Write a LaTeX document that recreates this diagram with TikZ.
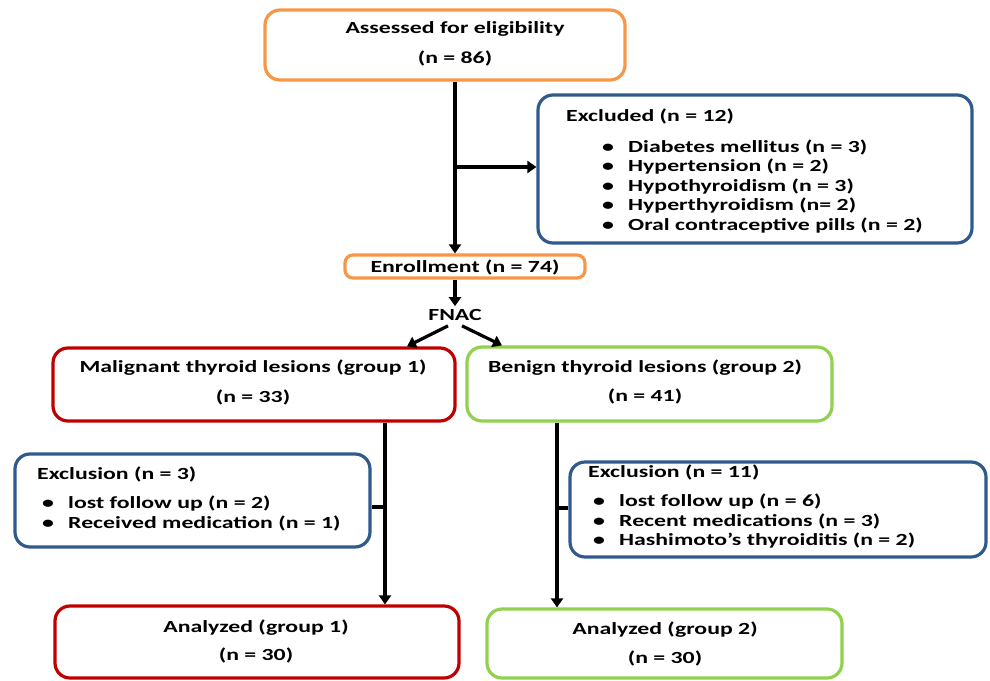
\documentclass[tikz,border=0pt]{standalone}
\usepackage{fontspec}
\setmainfont{Carlito}[FakeStretch=1.4]
\usetikzlibrary{arrows.meta}
\definecolor{boxorange}{HTML}{F79646}
\definecolor{boxblue}{HTML}{2F5A8E}
\definecolor{boxred}{HTML}{C00000}
\definecolor{boxgreen}{HTML}{92D050}
\newcommand{\itm}[1]{\hspace*{36pt}\makebox[26pt][l]{\textbullet}#1}
\newcommand{\itmb}[1]{\hspace*{5pt}\makebox[26pt][l]{\textbullet}#1}

\tikzset{
  flowbox/.style={draw, line width=3.2pt, rounded corners=15pt, inner sep=0pt},
  boxtext/.style={font=\fontsize{17}{20}\selectfont\bfseries, align=center, inner sep=0pt},
  listtext/.style={font=\fontsize{17}{19.5}\selectfont\bfseries, align=left, inner sep=0pt, anchor=north west},
  flow/.style={line width=3.2pt, -{Triangle[length=9pt,width=12pt]}},
  link/.style={line width=3.2pt}
}

\begin{document}
\begin{tikzpicture}[x=1pt,y=-1pt]
  \useasboundingbox (0,0) rectangle (990,680);

  % boxes
  \node[flowbox, draw=boxorange, minimum width=360pt, minimum height=70pt] (assess) at (445,45) {};
  \node[flowbox, draw=boxblue, minimum width=434pt, minimum height=148pt] (excl) at (755,169) {};
  \node[flowbox, draw=boxorange, rounded corners=8pt, minimum width=240pt, minimum height=23pt] (enroll) at (465,266.5) {};
  \node[flowbox, draw=boxred, minimum width=402pt, minimum height=73pt] (malig) at (254,384.5) {};
  \node[flowbox, draw=boxgreen, minimum width=365pt, minimum height=74pt] (benign) at (649.5,384) {};
  \node[flowbox, draw=boxblue, minimum width=355pt, minimum height=93pt] (exc1) at (192.5,500.5) {};
  \node[flowbox, draw=boxblue, minimum width=416pt, minimum height=95pt] (exc2) at (778,509.5) {};
  \node[flowbox, draw=boxred, minimum width=404pt, minimum height=72pt] (an1) at (257,642) {};
  \node[flowbox, draw=boxgreen, minimum width=355pt, minimum height=69pt] (an2) at (664.5,643.5) {};

  % texts
  \node[boxtext] (assesst) at (455,44) {Assessed for eligibility\\[10pt](n = 86)};
  \node[boxtext] (enrollt) at (465,267) {Enrollment (n = 74)};
  \node[boxtext] (fnac) at (455,315) {FNAC};
  \node[boxtext] (maligt) at (253,382) {Malignant thyroid lesions (group 1)\\[10pt](n = 33)};
  \node[boxtext] (benignt) at (645,381.5) {Benign thyroid lesions (group 2)\\[9pt](n = 41)};
  \node[boxtext] (an1t) at (256,641) {Analyzed (group 1)\\[8pt](n = 30)};
  \node[boxtext] (an2t) at (665,643.5) {Analyzed (group 2)\\[9pt](n = 30)};
  \node[listtext] (exclt) at (566,109) {Excluded (n = 12)\\[11pt]
    \itm{Diabetes mellitus (n = 3)}\\
    \itm{Hypertension (n = 2)}\\
    \itm{Hypothyroidism (n = 3)}\\
    \itm{Hyperthyroidism (n= 2)}\\
    \itm{Oral contraceptive pills (n = 2)}};
  \node[listtext] (exc1t) at (37,467) {Exclusion (n = 3)\\[9.5pt]
    \itmb{lost follow up (n = 2)}\\
    \itmb{Received medication (n = 1)}};
  \node[listtext] (exc2t) at (588,465) {Exclusion (n = 11)\\[9.5pt]
    \itmb{lost follow up (n = 6)}\\
    \itmb{Recent medications (n = 3)}\\
    \itmb{Hashimoto’s thyroiditis (n = 2)}};

  % connectors
  \coordinate (trunk) at (455,0);
  \coordinate (ltrunk) at (385,0);
  \coordinate (rtrunk) at (557,0);
  \draw[flow] (assess.south -| trunk) -- (enroll.north -| trunk);
  \draw[flow] (trunk |- 0,167) -- (excl.west |- 0,167);
  \draw[flow] (enroll.south -| trunk) -- ([yshift=3pt]fnac.north);
  \draw[flow] ([xshift=-7pt,yshift=-5pt]fnac.south) -- ([xshift=153pt]malig.north);
  \draw[flow] ([xshift=7pt,yshift=-5pt]fnac.south) -- ([xshift=-147.5pt]benign.north);
  \draw[flow] (malig.south -| ltrunk) -- (an1.north -| ltrunk);
  \draw[flow] (benign.south -| rtrunk) -- (an2.north -| rtrunk);
  \draw[link] (ltrunk |- 0,507) -- (exc1.east |- 0,507);
  \draw[link] (rtrunk |- 0,508) -- (exc2.west |- 0,508);
\end{tikzpicture}
\end{document}
